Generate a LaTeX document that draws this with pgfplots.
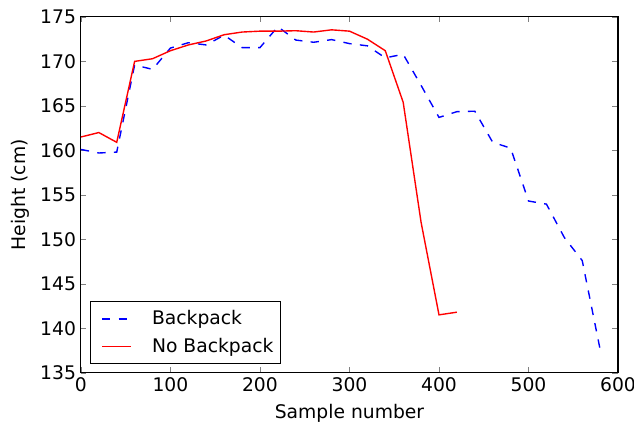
\documentclass[border=0pt]{standalone}
\usepackage{pgfplots}
\pgfplotsset{compat=1.18}
\usepackage{fontspec}
\setmainfont{DejaVu Sans}
\usetikzlibrary{calc}

\begin{document}
\begin{tikzpicture}
\begin{axis}[
    name=ax,
    scale only axis,
    width=387pt, height=256.3pt,
    xmin=0, xmax=600,
    ymin=135, ymax=175,
    xtick={0,100,...,600},
    ytick={135,140,...,175},
    tick align=inside,
    major tick length=4pt,
    axis line style={line width=0.8pt},
    /pgf/number format/assume math mode=true,
    ticklabel style={font=\fontsize{13.5}{16}\selectfont},
    label style={font=\fontsize{13.5}{16}\selectfont},
    xlabel={Sample number},
    ylabel={Height (cm)},
    xlabel style={at={(axis description cs:0.5,-0.1152)}, anchor=center},
    ylabel style={at={(axis description cs:-0.1132,0.5)}, anchor=center},
    legend style={at={(0.0167,0.0244)}, anchor=south west, draw=black,
        line width=0.8pt, font=\fontsize{13.5}{16}\selectfont,
        inner xsep=3pt, inner ysep=4.5pt, row sep=4pt},
    legend cell align=left,
    legend image code/.code={
        \draw[#1, line width=1pt] (0pt,0pt) -- (21pt,0pt);
        \path[draw=none] (-5.4pt,0pt) -- (34pt,0pt);},
]
% with backpack
\addplot[blue, line width=1pt, dash pattern=on 6pt off 6pt] coordinates {
    (0,160.1) (20,159.7) (40,159.8) (60,169.6) (80,169.1) (100,171.5)
    (120,172.1) (140,171.85) (160,172.95) (180,171.55) (200,171.55)
    (220,173.9) (240,172.4) (260,172.15) (280,172.45) (300,172.0)
    (320,171.75) (340,170.4) (360,170.8) (380,167.3) (400,163.7)
    (420,164.35) (440,164.4) (460,160.9) (480,160.25) (500,154.3)
    (520,153.95) (540,150.2) (560,147.6) (580,137.6)
};
\addlegendentry{Backpack}

% no backpack
\addplot[red, line width=1pt] coordinates {
    (0,161.5) (20,162.0) (40,160.9) (60,170.0) (80,170.3) (100,171.2)
    (120,171.85) (140,172.3) (160,173.0) (180,173.3) (200,173.4)
    (220,173.4) (240,173.45) (260,173.3) (280,173.55) (300,173.4)
    (320,172.5) (340,171.2) (360,165.4) (380,151.9) (400,141.5)
    (420,141.8)
};
\addlegendentry{No Backpack}
\end{axis}
\pgfresetboundingbox
\path ($(ax.south west)+(-58.3pt,-38.9pt)$) rectangle ($(ax.north east)+(11.5pt,12.2pt)$);
\end{tikzpicture}
\end{document}
